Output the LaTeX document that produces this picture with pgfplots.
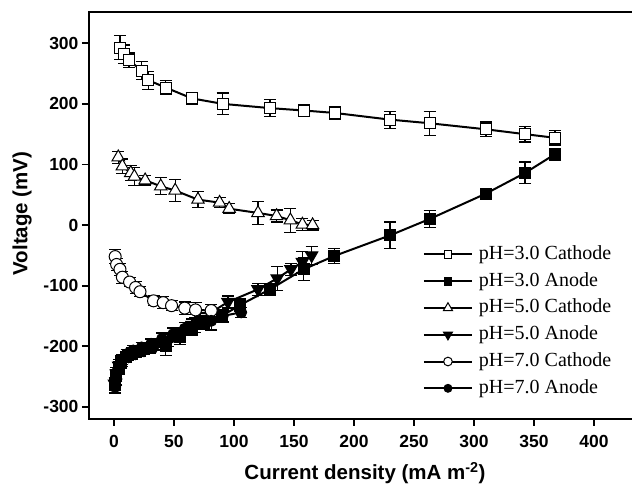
\documentclass[border=0pt]{standalone}
\usepackage{fontspec}
\setmainfont{Liberation Serif}
\setsansfont{Liberation Sans}
\usepackage{pgfplots}
\pgfplotsset{compat=1.18}
\usetikzlibrary{calc}

\begin{document}
\begin{tikzpicture}
\begin{axis}[
 scale only axis, width=545pt, height=407pt,
 xmin=-20.8, xmax=433.3, ymin=-320, ymax=351.6,
 axis line style={line width=1.8pt},
 tick pos=left, tick align=outside, major tick length=7pt,
 every tick/.style={black, line width=1.8pt},
 xtick={0,50,...,400}, ytick={-300,-200,...,300},
 /pgf/number format/assume math mode=true,
 ticklabel style={font=\sffamily\bfseries\fontsize{17.5}{20}\selectfont},
 xticklabel style={yshift=-6pt},
 xlabel={Current density (mA m\textsuperscript{-2})},
 ylabel={Voltage (mV)},
 label style={font=\sffamily\bfseries\fontsize{20.5}{24}\selectfont},
 xlabel style={at={($(rel axis cs:0.5064,0)+(0,-54pt)$)}, anchor=center},
 ylabel style={at={($(rel axis cs:0,0.505)+(-67pt,0)$)}, anchor=center},
 legend style={draw=none, fill=none, at={(rel axis cs:0.6128,0.4292)}, anchor=north west,
   inner sep=0pt, outer sep=0pt, row sep=6.8pt, font=\fontsize{20}{22}\selectfont,
   nodes={inner sep=1pt, text height=14pt, text depth=4pt},
   /tikz/every odd column/.append style={column sep=5pt}},
 legend cell align=left,
 legend image code/.code={\draw[#1, line width=2pt, mark repeat=2, mark phase=2, every mark/.append style={scale=0.72}] plot coordinates {(0pt,0pt) (24pt,0pt) (48pt,0pt)};},
 every axis plot/.append style={black, line width=2pt},
 error bars/y dir=both, error bars/y explicit,
 error bars/error bar style={line width=1.2pt, black},
 error bars/error mark options={rotate=90, mark size=6pt, line width=1.2pt, black},
]
\coordinate (LL) at (rel axis cs:0,0);
\coordinate (UR) at (rel axis cs:1,1);

% pH=3.0 Cathode
\addplot[mark=square*, mark size=5.5pt, mark options={fill=white, line width=1pt, solid}] coordinates {
(5,293) +- (0,20)
(8.6,282) +- (0,15)
(12.5,272) +- (0,12)
(23,255) +- (0,15)
(28.6,239) +- (0,15)
(43,227) +- (0,12)
(65,209) +- (0,10)
(90.6,200) +- (0,18)
(130,193) +- (0,14)
(158.6,189) +- (0,10)
(184,185) +- (0,11)
(230,174) +- (0,14)
(263,168) +- (0,20)
(310,158) +- (0,12)
(342.5,150) +- (0,13)
(367.5,144) +- (0,12)
};
\addlegendentry{pH=3.0 Cathode}

% pH=3.0 Anode
\addplot[mark=square*, mark size=5.5pt, mark options={fill=black, line width=1pt, solid}] coordinates {
(1,-262) +- (0,10)
(2,-248) +- (0,10)
(4,-236) +- (0,10)
(6,-226) +- (0,10)
(10,-218) +- (0,8)
(15,-212) +- (0,10)
(22,-207) +- (0,8)
(30,-203) +- (0,8)
(43,-200) +- (0,15)
(55,-185) +- (0,12)
(65,-172) +- (0,10)
(75,-162) +- (0,10)
(90,-150) +- (0,10)
(105,-132) +- (0,10)
(130,-106) +- (0,10)
(158,-73) +- (0,19)
(183.6,-51) +- (0,13)
(230,-17) +- (0,22)
(263,10) +- (0,14)
(310,52) +- (0,6)
(342.5,86) +- (0,18)
(367.5,117) +- (0,10)
};
\addlegendentry{pH=3.0 Anode}

% pH=5.0 Cathode
\addplot[mark=triangle*, mark size=7.2pt, mark options={fill=white, line width=1pt, solid}] coordinates {
(3.6,112) +- (0,10)
(7,97) +- (0,12)
(14,86) +- (0,12)
(17,80) +- (0,15)
(26,74) +- (0,8)
(39,64) +- (0,14)
(51,57) +- (0,18)
(70,42) +- (0,13)
(88,37) +- (0,8)
(96,27) +- (0,8)
(120,20) +- (0,19)
(135.5,15) +- (0,10)
(147,8) +- (0,20)
(157,1) +- (0,10)
(165.5,0) +- (0,8)
};
\addlegendentry{pH=5.0 Cathode}

% pH=5.0 Anode
\addplot[mark=triangle*, mark size=7.2pt, mark options={fill=black, rotate=180, line width=1pt, solid}] coordinates {
(0.5,-262) +- (0,10)
(2,-245) +- (0,10)
(4,-232) +- (0,10)
(7,-222) +- (0,8)
(12,-215) +- (0,8)
(18,-210) +- (0,8)
(25,-205) +- (0,8)
(35,-198) +- (0,8)
(45,-190) +- (0,10)
(55,-180) +- (0,10)
(65,-165) +- (0,10)
(72,-155) +- (0,10)
(95,-127) +- (0,10)
(120,-106) +- (0,10)
(136,-88) +- (0,20)
(147.5,-73) +- (0,10)
(157,-61) +- (0,18)
(164.7,-50) +- (0,15)
};
\addlegendentry{pH=5.0 Anode}

% pH=7.0 Cathode
\addplot[mark=*, mark size=6pt, mark options={fill=white, line width=1pt, solid}] coordinates {
(1,-52) +- (0,12)
(2.2,-65) +- (0,10)
(5,-73) +- (0,10)
(7,-86) +- (0,10)
(13,-94) +- (0,8)
(18,-103) +- (0,10)
(21.7,-110) +- (0,8)
(33,-125) +- (0,8)
(41,-128) +- (0,10)
(48,-133) +- (0,8)
(59,-137) +- (0,10)
(68,-140) +- (0,12)
(81,-141) +- (0,10)
};
\addlegendentry{pH=7.0 Cathode}

% pH=7.0 Anode
\addplot[mark=*, mark size=5.5pt, mark options={fill=black, line width=1pt, solid}] coordinates {
(1,-267) +- (0,10)
(2,-254) +- (0,10)
(3.6,-237) +- (0,10)
(6.4,-223) +- (0,10)
(10.6,-213) +- (0,8)
(16,-207) +- (0,8)
(23,-202) +- (0,8)
(31,-196) +- (0,8)
(40,-188) +- (0,10)
(49.4,-180) +- (0,10)
(59,-171) +- (0,10)
(67.5,-165) +- (0,12)
(81,-158) +- (0,15)
(90.6,-150) +- (0,10)
(106,-144) +- (0,8)
};
\addlegendentry{pH=7.0 Anode}
\end{axis}
\pgfresetboundingbox
\path ([shift={(-89pt,-65pt)}]LL) rectangle ([shift={(-2pt,12pt)}]UR);
\end{tikzpicture}
\end{document}
